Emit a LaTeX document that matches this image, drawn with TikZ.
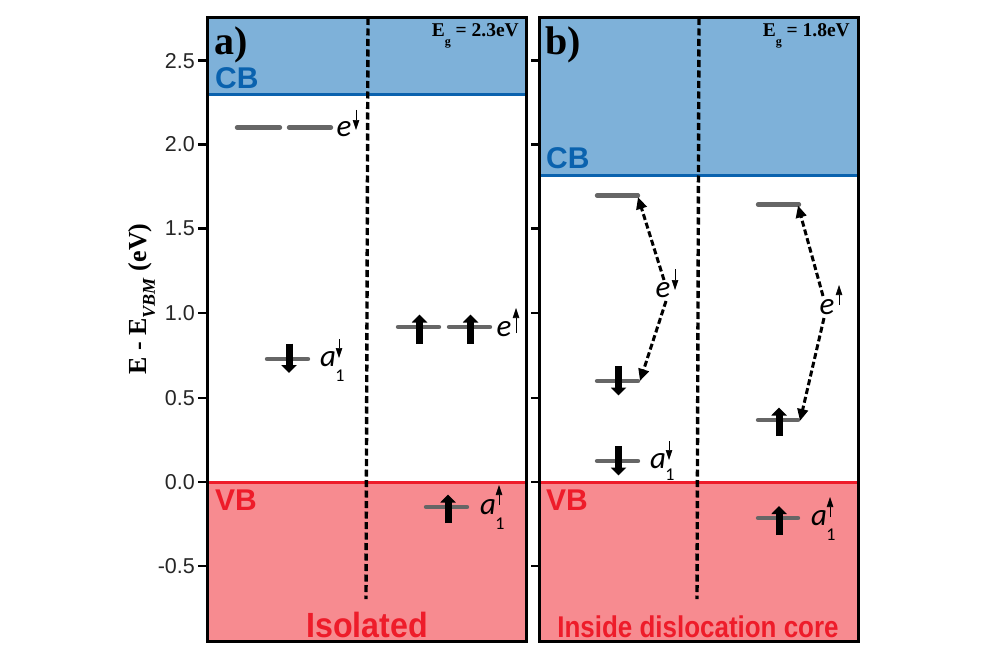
\documentclass[tikz,border=0pt]{standalone}
\usepackage{fontspec}
\setmainfont{Liberation Serif}
\setsansfont{Liberation Sans}
\newfontfamily\symfont{Carlito}
\usetikzlibrary{arrows.meta}
\definecolor{cbfill}{HTML}{7EB1D9}
\definecolor{cbline}{HTML}{0A62AE}
\definecolor{vbfill}{HTML}{F78B90}
\definecolor{vbline}{HTML}{EE1C2A}
\definecolor{lvl}{HTML}{666666}
\tikzset{
  x=1pt,y=-1pt,
  panel/.style={draw=black,line width=3pt,fill=none},
  bandline/.style={line width=3pt},
  divider/.style={line width=3.4pt,dash pattern=on 7pt off 3.5pt},
  level/.style={draw=lvl,line width=4.4pt,line cap=round},
  spinup/.style={line width=7pt,-{Triangle[width=15pt,length=8pt,inset=0pt]},shorten >=-0.5pt},
  orb/.style={inner sep=0pt,font=\symfont\itshape\fontsize{31}{31}\selectfont},
  sub1/.style={inner sep=0pt,font=\symfont\fontsize{18}{18}\selectfont},
  smallspin/.style={line width=0.6pt,-{Triangle[width=6.5pt,length=10pt,inset=0pt]}},
  dasharrow/.style={line width=3pt,dash pattern=on 6pt off 3pt,-{Triangle[width=10.5pt,length=12pt,inset=0pt]}},
  tick/.style={line width=2.4pt},
  ticklab/.style={anchor=east,inner sep=0pt,font=\sffamily\fontsize{21.5}{21.5}\selectfont,text=black!85},
  bandlab/.style={anchor=west,inner sep=0pt,font=\sffamily\bfseries\fontsize{30}{30}\selectfont},
  panlab/.style={anchor=west,inner sep=0pt,font=\bfseries\fontsize{40}{40}\selectfont},
  gaplab/.style={anchor=east,inner sep=0pt,font=\bfseries\fontsize{19.5}{19.5}\selectfont},
}
\begin{document}
\begin{tikzpicture}
\useasboundingbox (0,0) rectangle (1000,666);
% band fills
\fill[cbfill] (207,18) rectangle (526,95);
\fill[vbfill] (207,482) rectangle (526,641);
\fill[cbfill] (539,18) rectangle (858,175);
\fill[vbfill] (539,482) rectangle (858,641);
\draw[bandline,cbline] (207,94.5) -- (526,94.5);
\draw[bandline,vbline] (207,482) -- (526,482);
\draw[bandline,cbline] (539,175) -- (858,175);
\draw[bandline,vbline] (539,482) -- (858,482);
% dividers
\draw[divider] (368,18) -- (366,599);
\draw[divider] (699,18) -- (697,599);
% ticks
\foreach \yy/\lab in {60.7/2.5,144.5/2.0,228.5/1.5,313/1.0,398/0.5,482/0.0,566/-0.5}{
  \draw[tick] (198,\yy) -- (207,\yy);
  \draw[tick] (531,\yy) -- (539,\yy);
  \node[ticklab] at (195,\yy) {\lab};
}
% axis label
\node[rotate=90,inner sep=0pt,font=\bfseries\fontsize{26}{26}\selectfont] (ylab) at (142,299)
  {E - E\raisebox{-0.3em}{\fontsize{18}{18}\selectfont\textit{VBM}} (eV)};
% band labels
\node[panlab] (pa) at (214,45) {a)};
\node[panlab] (pb) at (545,45) {b)};
\node[bandlab,text=cbline] (cba) at (215,78) {CB};
\node[bandlab,text=cbline] (cbb) at (546,158) {CB};
\node[bandlab,text=vbline] (vba) at (215,500) {VB};
\node[bandlab,text=vbline] (vbb) at (546,500) {VB};
\node[gaplab] (ga) at (519,36) {E\raisebox{-0.45em}{\fontsize{12}{12}\selectfont g} = 2.3eV};
\node[gaplab] (gb) at (850,36) {E\raisebox{-0.45em}{\fontsize{12}{12}\selectfont g} = 1.8eV};
\node[inner sep=0pt,text=vbline,font=\sffamily\bfseries\fontsize{35}{35}\selectfont,xscale=0.92] (iso) at (367,625) {Isolated};
\node[inner sep=0pt,text=vbline,font=\sffamily\bfseries\fontsize{30}{30}\selectfont,xscale=0.865] (ins) at (698,627) {Inside dislocation core};
% levels panel a
\draw[level] (237,127.5) -- (280,127.5);
\draw[level] (289,127.5) -- (331,127.5);
\draw[level] (267,359) -- (308,359);
\draw[level] (398,327) -- (439,327);
\draw[level] (449,327) -- (490,327);
\draw[level] (426,507) -- (467,507);
% levels panel b
\draw[level] (597,195.5) -- (638,195.5);
\draw[level] (597,381) -- (638,381);
\draw[level] (597,461) -- (638,461);
\draw[level] (758,204.5) -- (799,204.5);
\draw[level] (758,420) -- (798,420);
\draw[level] (758,518) -- (798,518);
% spin arrows
\draw[spinup] (289,343.5) -- (289,372.5);
\draw[spinup] (419.5,343.5) -- (419.5,315);
\draw[spinup] (470.5,343.5) -- (470.5,315);
\draw[spinup] (448,523) -- (448,495);
\draw[spinup] (618.5,366) -- (618.5,395);
\draw[spinup] (618.5,446) -- (618.5,475);
\draw[spinup] (779,436) -- (779,408);
\draw[spinup] (779,535) -- (779,506.5);
% orbital labels
\node[orb] (ea) at (344,129) {e};
\draw[smallspin] (356,110) -- (356,130);
\node[orb] (a1a) at (328,359) {a};
\node[sub1] at (340,376) {1};
\draw[smallspin] (339,339) -- (339,358);
\node[orb] (eau) at (504,329) {e};
\draw[smallspin] (516,333) -- (516,308);
\node[orb] (a1au) at (488,507) {a};
\node[sub1] at (500,524) {1};
\draw[smallspin] (499,505) -- (499,485);
\node[orb] (eb) at (663,290) {e};
\draw[smallspin] (675,269) -- (675,290);
\node[orb] (ebu) at (827,307) {e};
\draw[smallspin] (839,305) -- (839,285);
\node[orb] (a1b) at (658,461) {a};
\node[sub1] at (670,475) {1};
\draw[smallspin] (669,441) -- (669,460);
\node[orb] (a1bu) at (819,518) {a};
\node[sub1] at (831,535) {1};
\draw[smallspin] (830,517) -- (830,497);
% named level ends for dashed connectors
\coordinate (t1) at (638,197);
\coordinate (b1) at (640,381);
\coordinate (t2) at (798,205.5);
\coordinate (b2) at (800,421);
\draw[dasharrow] (664,280) -- (t1);
\draw[dasharrow] (666,301) -- (b1);
\draw[dasharrow] (823,296) -- (t2);
\draw[dasharrow] (824,318) -- (b2);
% panels
\draw[panel] (207,18) rectangle (526,641);
\draw[panel] (539,18) rectangle (858,641);
\end{tikzpicture}
\end{document}
